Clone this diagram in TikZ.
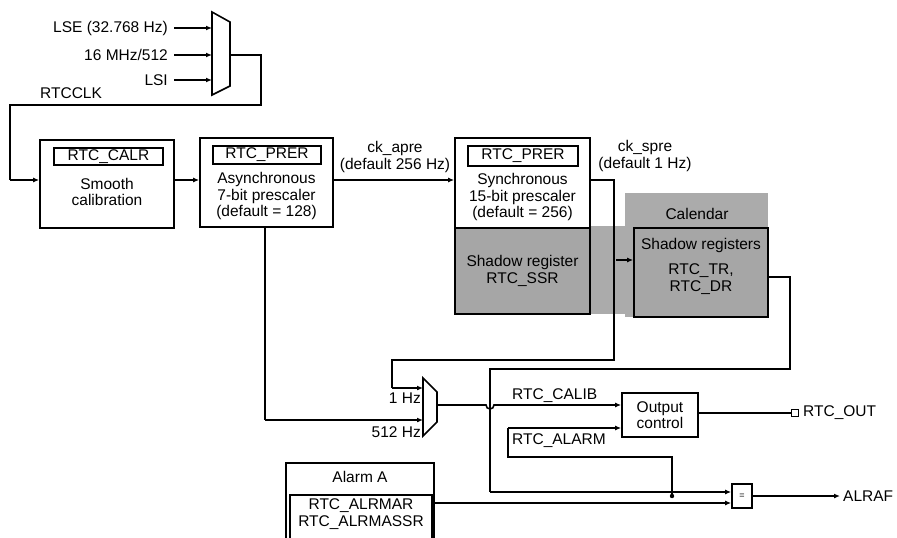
\documentclass[tikz,border=0pt]{standalone}
\usepackage{fontspec}
\setmainfont{Liberation Sans}
\usetikzlibrary{arrows.meta}
\begin{document}
\begin{tikzpicture}[x=1pt,y=-1pt,
  every node/.style={font=\fontsize{15.5}{16.5}\selectfont, inner sep=0pt},
  ln/.style={line width=1.6pt},
  ar/.style={ln,-{Latex[length=6pt,width=5pt]}},
  box/.style={draw,line width=1.7pt,fill=white},
  gbox/.style={draw,line width=1.7pt,fill=black!35},
  lbl/.style={align=center}]
\useasboundingbox (0,0) rectangle (897,538);
% gray background
\fill[black!33] (455,226) rectangle (634,314);
\fill[black!33] (625,193) rectangle (768,226);
\fill[black!33] (625,226) rectangle (768,317);
\node (cal) at (697,214) {Calendar};
% top mux
\draw[ln] (212,12) -- (230,22) -- (230,86) -- (212,95) -- cycle;
\coordinate (m1o) at (230,55);
\node[anchor=east] (lse) at (168,28) {LSE (32.768 Hz)};
\node[anchor=east] (mhz) at (168,55) {16 MHz/512};
\node[anchor=east] (lsi) at (168,80) {LSI};
\draw[ar] (lse.east)++(6,0) -- (212,28);
\draw[ar] (mhz.east)++(6,0) -- (212,55);
\draw[ar] (lsi.east)++(6,0) -- (212,80);
\node[anchor=west] (rtcclk) at (40,93) {RTCCLK};
% boxes
\node[box,minimum width=134pt,minimum height=88pt] (calr) at (107,184) {};
\node[draw,line width=1.6pt,minimum width=109pt,minimum height=17pt] (calri) at (108.5,156.5) {RTC\_CALR};
\node[lbl] (smooth) at (107,192) {Smooth\\calibration};
\node[box,minimum width=133pt,minimum height=89pt] (pr1) at (266.5,182.5) {};
\node[draw,line width=1.6pt,minimum width=108pt,minimum height=18pt] (pr1i) at (267,155) {RTC\_PRER};
\node[lbl] (asyn) at (266.5,196) {Asynchronous\\7-bit prescaler\\(default = 128)};
\node[box,minimum width=135pt,minimum height=90pt] (pr2) at (522.5,183) {};
\node[draw,line width=1.6pt,minimum width=110pt,minimum height=20pt] (pr2i) at (523,156) {RTC\_PRER};
\node[lbl] (syn) at (522.5,197) {Synchronous\\15-bit prescaler\\(default = 256)};
\node[gbox,minimum width=135pt,minimum height=86pt,lbl] (ssr) at (522.5,271) {Shadow register\\RTC\_SSR};
\node[gbox,minimum width=134pt,minimum height=89pt] (dr) at (701,272.5) {};
\node (sh) at (701,245) {Shadow registers};
\node[lbl] (trdr) at (701,279) {RTC\_TR,\\RTC\_DR};
\draw[ar] (616,260) -- (dr.west|-0,260);
% connections top
\draw[ln] (m1o) -- (261,55) -- (261,105) -- (10,105) -- (10,180);
\draw[ar] (10,180) -- (calr.west|-0,180);
\draw[ar] (calr.east|-0,180) -- (pr1.west|-0,180);
\draw[ar] (pr1.east|-0,180) -- (pr2.west|-0,180);
\node[lbl] (ckapre) at (395,157) {ck\_apre\\(default 256 Hz)};
\node[lbl] (ckspre) at (645,156) {ck\_spre\\(default 1 Hz)};
% mux 2
\draw[ln] (423,378) -- (437,392) -- (437,422) -- (423,436) -- cycle;
\node[anchor=east] (hz1) at (421,398) {1 Hz};
\node[anchor=east] (hz512) at (421,432) {512 Hz};
\draw[ln] (pr2.east|-0,180) -- (614,180) -- (614,360) -- (392,360) -- (392,388);
\draw[ar] (392,388) -- (423,388);
\draw[ln] (265,227) -- (265,420);
\draw[ar] (265,420) -- (423,420);
% output control
\node[box,minimum width=76pt,minimum height=44pt,lbl] (oc) at (660,415) {Output\\control};
\draw[ar] (437,405) -- (486,405) arc (180:0:4) -- (oc.west|-0,405);
\node[anchor=west] (calib) at (512,396) {RTC\_CALIB};
\draw[ln] (oc.east|-0,413) -- (791,413);
\node[draw,line width=1.6pt,minimum size=7pt] (outsq) at (795,413) {};
\node[anchor=west] (rtcout) at (803,413) {RTC\_OUT};
% calendar output
\draw[ln] (dr.east|-0,277) -- (790,277) -- (790,369) -- (490,369) -- (490,492);
\node[box,minimum width=20pt,minimum height=24pt,font=\fontsize{9}{9}\selectfont] (eq) at (742,496) {=};
\draw[ar] (490,492) -- (eq.west|-0,492);
\draw[ar] (eq.east|-0,496) -- (840,496);
\node[anchor=west] (alraf) at (843,496) {ALRAF};
\fill (672,496) circle (2.2pt);
\draw[ln] (672,496) -- (672,457) -- (508,457) -- (508,428);
\draw[ar] (508,428) -- (oc.west|-0,428);
\node[anchor=west] (alarm) at (512,441) {RTC\_ALARM};
% alarm A
\draw[line width=1.7pt] (286,545) -- (286,463) -- (434,463) -- (434,545);
\node (alA) at (360,477) {Alarm A};
\draw[line width=1.6pt] (290,545) -- (290,495) -- (432,495) -- (432,545);
\node[lbl] (alrm) at (361,514) {RTC\_ALRMAR\\RTC\_ALRMASSR};
\draw[ar] (432,503) -- (eq.west|-0,503);
\end{tikzpicture}
\end{document}
